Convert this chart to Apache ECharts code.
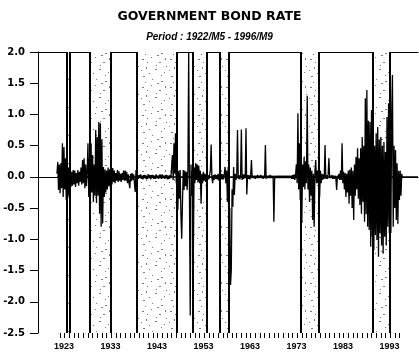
<!DOCTYPE html>
<html>
<head>
<meta charset="utf-8">
<script src="https://cdn.jsdelivr.net/npm/echarts@6/dist/echarts.min.js"></script>
<style>
  html, body { margin: 0; padding: 0; background: #fff; }
  #chart { width: 419px; height: 355px; }
</style>
</head>
<body>
<div id="chart"></div>
<script>
  // monthly series sampled every two months, starting 1922/M5
  const startYear = 1922;
  const startMonth = 5;
  const stepMonths = 2;

  const rates1920s = [
    0.05, 0.24, -0.21, 0.2,
    -0.26, 0.22, -0.18, 0.54, -0.32, 0.48,
    -0.2, 0.3, -0.37, 0.38, -0.34, 0.15,
    -0.3, 0.11, -0.16, 0.08, -0.14, 0.11,
    -0.12, 0.1, -0.16, 0.06, -0.1, 0.11,
    -0.14, 0.08, -0.08, 0.15, -0.12, 0.27,
    -0.1, 0.3, -0.18, 0.2, -0.15, 0.1,
    0.54, -0.32, 0.3, -0.48, 0.54, -0.25
  ];
  const rates1930s = [
    0.35, -0.4, 0.2, -0.3, 0.75, -0.42,
    0.64, -0.3, 0.88, -0.59, 0.86, -0.8,
    0.59, -0.74, 0.16, -0.32, 0.12, -0.25,
    0.1, -0.2, 0.15, -0.15, 0.12, -0.18,
    0.08, -0.12, 0.14, -0.08, 0.1, -0.1,
    0.06, -0.06, 0.11, -0.08, 0.09, -0.06,
    0.05, -0.08, 0.06, -0.05, 0.1, -0.06,
    0.1, -0.06, 0.08, -0.1, 0.04, -0.1,
    -0.18, 0.05, -0.07, 0.06, -0.05, 0.04,
    0.02, -0.24, 0.11, -0.05, 0.03, -0.03
  ];
  const rates1940s = [
    0.03, -0.02, 0.04, -0.03, 0.02, -0.04,
    0.03, -0.02, 0.03, -0.03, 0.02, -0.03,
    0.04, -0.02, 0.03, -0.04, 0.03, -0.02,
    0.03, -0.03, 0.02, -0.03, 0.04, -0.02,
    0.02, -0.03, 0.03, -0.02, 0.03, -0.03,
    0.04, -0.02, 0.02, -0.03, 0.03, -0.02,
    0.03, -0.04, 0.02, -0.03, 0.03, -0.02,
    -0.04, 0.35, -0.05, 0.54, 0.05, 0.7,
    -0.1, 0.11, -0.53, 0.1, -0.35, 0.11,
    -0.6, -0.99, -0.4, 0.11, -0.21, 0.1
  ];
  const rates1950s = [
    -0.15, 0.08, -0.21, 0.1, 2.0, -0.3,
    -2.22, 0.2, -0.3, 0.1, -1.28, 0.15,
    -0.1, 0.22, -0.05, 0.2, -0.08, 0.18,
    -0.1, 0.1, -0.43, 0.05, -0.1, 0.08,
    -0.06, 0.05, -0.08, 0.04, -0.05, 0.03,
    -0.04, 0.03, 0.1, 0.52, -0.02, -0.1,
    0.03, -0.05, 0.04, -0.03, 0.03, -0.04,
    0.05, -0.06, 0.04, -0.05, 0.05, -0.04,
    0.04, -0.04, 0.05, 0.16, -0.1, 0.1,
    -0.4, 0.16, -1.2, -0.5, -1.73, -1.5
  ];
  const rates1960s = [
    -0.2, -0.48, 0.16, -0.29, 0.05, -0.05,
    0.02, 0.75, -0.03, 0.03, -0.04, 0.02,
    0.76, -0.05, 0.04, -0.03, 0.04, -0.02,
    0.78, -0.28, 0.03, -0.03, 0.03, -0.04,
    0.02, 0.27, -0.02, 0.02, -0.02, 0.02,
    -0.03, 0.02, -0.02, 0.03, -0.02, 0.02,
    -0.02, 0.03, -0.02, 0.02, -0.03, 0.02,
    -0.02, 0.51, -0.03, 0.02, -0.02, 0.02,
    -0.02, 0.03, -0.02, 0.02, -0.02, 0.02,
    -0.72, 0.02, 0.05, -0.02, 0.02, -0.02
  ];
  const rates1970s = [
    0.02, -0.02, 0.02, -0.02, 0.02, -0.02,
    0.02, -0.02, 0.02, -0.02, 0.02, -0.02,
    0.02, -0.02, 0.02, -0.02, 0.02, -0.03,
    0.03, -0.03, 0.04, -0.05, 0.04, 0.2,
    -0.1, 1.02, -0.2, 0.54, -0.37, 0.3,
    -0.74, 0.2, -0.16, 0.32, -0.2, 0.25,
    -0.1, 1.3, -0.2, 0.2, -0.4, 0.15,
    -0.3, 0.1, -0.69, 0.05, -0.8, 0.1,
    0.27, -0.1, 0.1, -0.1, 0.27, -0.32,
    0.1, -0.1, 0.05, -0.05, 0.04, -0.03
  ];
  const rates1980s = [
    0.51, -0.03, 0.03, -0.03, 0.04, 0.3,
    -0.02, 0.02, -0.02, 0.03, -0.03, 0.02,
    -0.03, 0.02, -0.03, -0.21, 0.02, -0.03,
    0.05, -0.05, 0.1, -0.05, 0.54, -0.1,
    0.08, -0.2, 0.06, -0.32, 0.05, -0.25,
    0.1, -0.43, 0.12, -0.3, 0.15, -0.5,
    0.1, -0.69, 0.2, -0.3, 0.32, -0.2,
    0.46, -0.35, 0.3, -0.45, 0.46, -0.59,
    0.64, -0.4, 0.5, -0.72, 1.26, -0.6,
    1.39, -0.8, 0.9, -0.85, 0.88, -1.12
  ];
  const rates1990s = [
    1.07, -0.96, 0.64, -1.17, 0.5, -0.93,
    0.7, -1.01, 0.8, -1.28, 0.6, -0.9,
    0.64, -1.1, 0.5, -1.23, 0.56, -0.96,
    0.4, -1.1, 0.96, -0.8, 1.18, -0.9,
    0.6, -0.9, 1.0, 1.63, -0.8, 0.5,
    -0.5, 0.43, -0.69, 0.22, -0.75, 0.1,
    -0.37, 0.1, -0.3, 0.05, -0.02
  ];

  // shaded periods [from, to] in decimal years
  const bands = [
    [1924.45, 1925.15],
    [1929.3, 1934.0],
    [1939.55, 1948.05],
    [1951.6, 1954.6],
    [1957.4, 1959.3],
    [1974.85, 1978.55],
    [1990.25, 1994.0]
  ];

  const xMin = 1918.25;
  const xMax = 2000;
  const tickFirst = 1923;
  const tickLast = 1996;
  const yearLabels = [1923, 1933, 1943, 1953, 1963, 1973, 1983, 1993];

  const rates = [].concat(rates1920s, rates1930s, rates1940s, rates1950s,
    rates1960s, rates1970s, rates1980s, rates1990s);
  const seriesData = rates.map((v, i) => [startYear + (startMonth - 1 + i * stepMonths) / 12, v]);
  const firstT = seriesData[0][0];

  // plot box in pixels
  const plotLeft = 38, plotRight = 418, plotTop = 52, plotBottom = 333;
  const pxPerYear = (plotRight - plotLeft) / (xMax - xMin);

  // stipple fill for the shaded periods
  const stipple = document.createElement('canvas');
  stipple.width = 28;
  stipple.height = 28;
  const sctx = stipple.getContext('2d');
  sctx.fillStyle = '#fff';
  sctx.fillRect(0, 0, 28, 28);
  sctx.fillStyle = '#7a7a7a';
  [[2, 3, 2, 1], [11, 1, 1, 1], [19, 6, 2, 1], [6, 11, 1, 2], [15, 13, 2, 1],
   [24, 16, 1, 1], [3, 20, 2, 1], [12, 23, 1, 1], [21, 25, 2, 1], [9, 17, 1, 1],
   [25, 2, 1, 2], [7, 6, 1, 1], [16, 9, 1, 1], [1, 14, 1, 1], [21, 19, 1, 1],
   [17, 27, 2, 1], [5, 26, 1, 1], [26, 10, 1, 1]]
    .forEach(r => sctx.fillRect(r[0], r[1], r[2], r[3]));

  const chart = echarts.init(document.getElementById('chart'));

  const labelFont = { color: '#000', fontFamily: 'Liberation Sans', fontWeight: 'bold', fontSize: 9 };

  chart.setOption({
    animation: false,
    backgroundColor: '#fff',
    title: [
      {
        text: 'GOVERNMENT BOND RATE',
        left: 'center',
        top: 5,
        textStyle: { fontFamily: 'DejaVu Sans', fontWeight: 'bold', fontSize: 12.5, color: '#000' }
      },
      {
        text: 'Period : 1922/M5 - 1996/M9',
        left: 'center',
        top: 27,
        textStyle: { fontFamily: 'Liberation Sans', fontWeight: 'bold', fontStyle: 'italic', fontSize: 10, color: '#000' }
      }
    ],
    grid: [
      { left: plotLeft, right: 419 - plotRight, top: plotTop, bottom: 355 - plotBottom },
      // thin strip used only for the yearly tick comb
      {
        left: plotLeft + (tickFirst - xMin) * pxPerYear,
        width: (tickLast - tickFirst) * pxPerYear,
        top: plotBottom - 1,
        height: 1
      }
    ],
    xAxis: [
      {
        type: 'value',
        gridIndex: 0,
        min: xMin,
        max: xMax,
        axisLine: { show: true, lineStyle: { color: '#000', width: 1 } },
        axisTick: { show: false },
        axisLabel: Object.assign({
          customValues: yearLabels,
          margin: 9,
          padding: [0, 0, 0, 8],
          formatter: v => String(v)
        }, labelFont),
        splitLine: { show: false }
      },
      {
        type: 'value',
        gridIndex: 0,
        position: 'top',
        min: xMin,
        max: xMax,
        axisLine: { show: true, lineStyle: { color: '#000', width: 1 } },
        axisTick: { show: false },
        axisLabel: { show: false },
        splitLine: { show: false }
      },
      {
        type: 'value',
        gridIndex: 1,
        min: tickFirst,
        max: tickLast,
        interval: 1,
        axisLine: { show: false },
        axisTick: { show: true, length: 5, lineStyle: { color: '#000', width: 1 } },
        axisLabel: { show: false },
        splitLine: { show: false }
      }
    ],
    yAxis: [
      {
        type: 'value',
        gridIndex: 0,
        min: -2.5,
        max: 2.0,
        interval: 0.5,
        axisLine: { show: true, lineStyle: { color: '#000', width: 1 } },
        axisTick: { show: true, length: 8, lineStyle: { color: '#000', width: 1 } },
        axisLabel: {
          margin: 13,
          color: '#000',
          fontFamily: 'DejaVu Sans',
          fontWeight: 'bold',
          fontSize: 10,
          formatter: v => v.toFixed(1)
        },
        splitLine: { show: false }
      },
      {
        type: 'value',
        gridIndex: 1,
        show: false
      }
    ],
    series: [
      {
        type: 'line',
        xAxisIndex: 0,
        yAxisIndex: 0,
        data: seriesData,
        showSymbol: false,
        symbol: 'none',
        lineStyle: { color: '#000', width: 1.3 },
        z: 5,
        markArea: {
          silent: true,
          itemStyle: { color: { image: stipple, repeat: 'repeat' } },
          data: bands.map(b => [{ xAxis: b[0] }, { xAxis: b[1] }])
        },
        markLine: {
          silent: true,
          symbol: 'none',
          label: { show: false },
          data: [].concat(
            bands.flatMap(b => [{ xAxis: b[0] }, { xAxis: b[1] }])
              .map(d => Object.assign(d, { lineStyle: { color: '#000', width: 2, type: 'solid' } })),
            [[
              { coord: [firstT, 0], lineStyle: { color: '#000', width: 1.5, type: 'solid' } },
              { coord: [xMax, 0] }
            ]]
          )
        }
      }
    ]
  });

  window.addEventListener('resize', () => chart.resize());
</script>
</body>
</html>
